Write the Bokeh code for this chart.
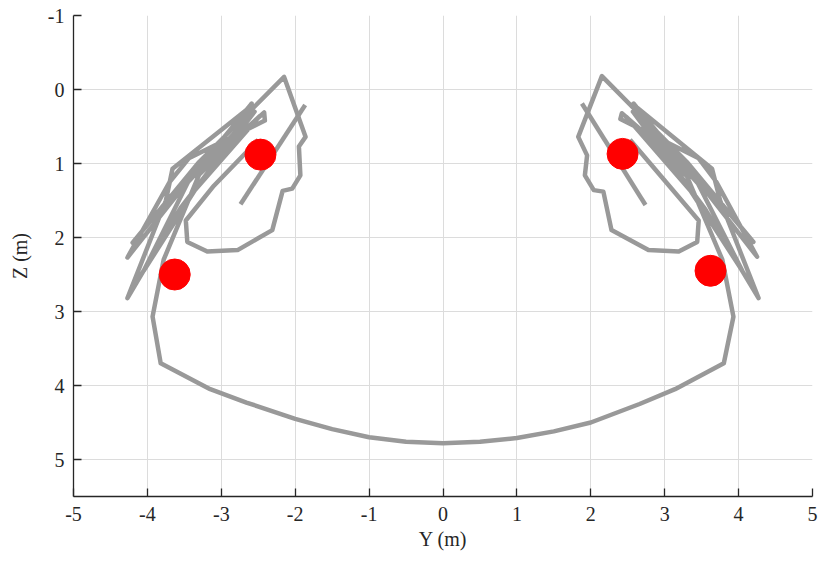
from bokeh.plotting import figure
from bokeh.models import Range1d, FixedTicker
from bokeh.embed import file_html
from bokeh.resources import INLINE

# ---- data ----
x_ticks = [-5, -4, -3, -2, -1, 0, 1, 2, 3, 4, 5]
x_tick_labels = ["-5", "-4", "-3", "-2", "-1", "0", "1", "2", "3", "4", "5"]
z_ticks = [-1, 0, 1, 2, 3, 4, 5]
z_tick_labels = ["-1", "0", "1", "2", "3", "4", "5"]

# main trajectory (Y, Z): left inner loop, left bundle, bottom arc, right bundle, right inner loop
left_y = [-2.50, -3.10, -3.48, -3.46, -3.19, -2.78, -2.31, -2.17, -2.04, -1.93, -1.95, -1.86,
          -2.15, -3.30, -4.20, -3.60, -2.42, -2.41, -3.44, -3.70, -4.27, -3.50, -2.59, -2.64,
          -3.66, -3.75, -4.27, -3.55, -2.55, -3.45, -4.05, -3.35, -2.48, -3.30, -3.78, -3.93]
left_z = [0.68, 1.30, 1.77, 2.06, 2.19, 2.17, 1.90, 1.37, 1.34, 1.16, 0.77, 0.64,
          -0.17, 0.98, 2.07, 1.35, 0.31, 0.42, 0.93, 1.25, 2.27, 1.30, 0.19, 0.26,
          1.07, 1.50, 2.82, 1.60, 0.30, 1.25, 2.45, 1.35, 0.36, 1.15, 2.30, 3.07]
arc_y = [-3.82, -3.15, -2.66, -2.00, -1.50, -1.00, -0.50, 0.00, 0.50, 1.00, 1.50, 2.00, 2.66, 3.14, 3.80]
arc_z = [3.70, 4.05, 4.23, 4.45, 4.59, 4.70, 4.76, 4.78, 4.76, 4.71, 4.62, 4.50, 4.25, 4.05, 3.70]
right_y = [3.93, 3.78, 3.30, 2.48, 3.35, 4.05, 3.45, 2.57, 3.55, 4.27, 3.75, 3.64, 2.62, 2.58,
           3.50, 4.25, 3.70, 3.46, 2.40, 2.42, 3.60, 4.20, 3.30, 2.15,
           1.83, 1.95, 1.92, 2.04, 2.17, 2.28, 2.78, 3.19, 3.44, 3.46, 2.53]
right_z = [3.07, 2.30, 1.17, 0.37, 1.37, 2.45, 1.27, 0.30, 1.62, 2.82, 1.50, 1.07, 0.24, 0.19,
           1.30, 2.26, 1.25, 0.93, 0.40, 0.32, 1.35, 2.06, 0.98, -0.18,
           0.64, 0.89, 1.16, 1.36, 1.38, 1.90, 2.17, 2.19, 2.06, 1.77, 0.68]

path_y = left_y + arc_y + right_y
path_z = left_z + arc_z + right_z

# short separate strokes
left_stroke_y = [-2.74, -1.865]
left_stroke_z = [1.55, 0.21]
right_stroke_y = [2.74, 1.88]
right_stroke_z = [1.56, 0.19]

# red markers
marker_y = [-2.47, -3.63, 2.43, 3.62]
marker_z = [0.88, 2.50, 0.87, 2.45]

FONT = "Liberation Serif"

p = figure(frame_width=739, frame_height=481,
           x_range=Range1d(-5, 5), y_range=Range1d(5.5, -1),
           output_backend="svg", toolbar_location=None,
           min_border_left=73, min_border_right=10, min_border_top=15, min_border_bottom=60)
p.outline_line_color = None
p.background_fill_color = "white"
p.border_fill_color = "white"

for ax in (p.xaxis[0], p.yaxis[0]):
    ax.major_label_text_font = FONT
    ax.major_label_text_font_size = "20px"
    ax.major_label_text_color = "#262626"
    ax.axis_label_text_font = FONT
    ax.axis_label_text_font_size = "20px"
    ax.axis_label_text_font_style = "normal"
    ax.axis_label_text_color = "#262626"
    ax.axis_line_color = "#262626"
    ax.axis_line_width = 1.3
    ax.major_tick_line_color = "#262626"
    ax.major_tick_line_width = 1.3
    ax.major_tick_in = 8
    ax.major_tick_out = 0
    ax.minor_tick_line_color = None

p.xaxis.ticker = FixedTicker(ticks=x_ticks)
p.yaxis.ticker = FixedTicker(ticks=z_ticks)
p.xaxis.major_label_overrides = {t: l for t, l in zip(x_ticks, x_tick_labels)}
p.yaxis.major_label_overrides = {t: l for t, l in zip(z_ticks, z_tick_labels)}
p.xaxis.axis_label = "Y (m)"
p.yaxis.axis_label = "Z (m)"
p.xaxis.major_label_standoff = 10
p.yaxis.major_label_standoff = 9
p.xaxis.axis_label_standoff = 4
p.yaxis.axis_label_standoff = 14

p.xgrid.ticker = FixedTicker(ticks=x_ticks)
p.ygrid.ticker = FixedTicker(ticks=z_ticks)
for g in (p.xgrid[0], p.ygrid[0]):
    g.grid_line_color = "#dcdcdc"
    g.grid_line_width = 1

LC = "#999999"
p.line(path_y, path_z, line_color=LC, line_width=4.5, line_join="round")
p.line(left_stroke_y, left_stroke_z, line_color=LC, line_width=4.5)
p.line(right_stroke_y, right_stroke_z, line_color=LC, line_width=4.5)
p.scatter(marker_y, marker_z, size=31, fill_color="#ff0000", line_color="#ff0000")

open("out.html", "w").write(file_html(p, INLINE))
